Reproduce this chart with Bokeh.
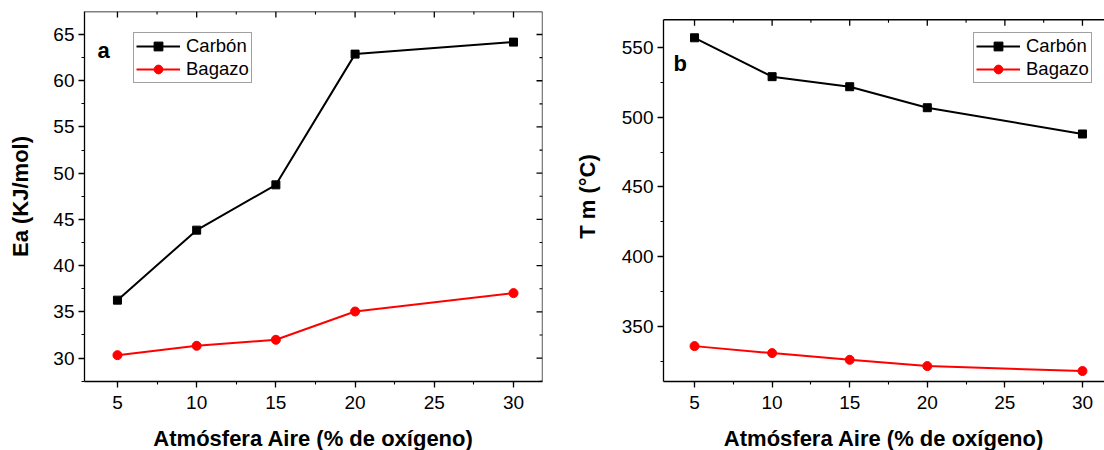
import math
from bokeh.plotting import figure
from bokeh.models import Range1d, Legend, LegendItem, Label, SingleIntervalTicker, Span
from bokeh.layouts import row
from bokeh.embed import file_html
from bokeh.resources import INLINE

# ---- data ----
oxygen = [5, 10, 15, 20, 30]
ea_carbon = [36.27, 43.84, 48.74, 62.88, 64.18]
ea_bagazo = [30.32, 31.33, 31.98, 35.04, 37.03]
tm_carbon = [556.7, 528.9, 521.7, 506.7, 487.9]
tm_bagazo = [336.2, 331.2, 326.4, 321.9, 318.4]
x_title = "Atmósfera Aire (% de oxígeno)"
series_names = ["Carbón", "Bagazo"]

FONT = "Liberation Sans"


def style_axis(ax):
    ax.axis_line_color = "black"
    ax.axis_line_width = 1.3
    ax.major_tick_line_color = "black"
    ax.major_tick_line_width = 1.3
    ax.minor_tick_line_color = "black"
    ax.minor_tick_line_width = 1.1
    ax.major_tick_in, ax.major_tick_out = 0, 6
    ax.minor_tick_in, ax.minor_tick_out = 0, 3
    ax.major_label_text_font = FONT
    ax.major_label_text_font_size = "19px"
    ax.major_label_text_color = "black"
    ax.axis_label_text_font = FONT
    ax.axis_label_text_font_size = "22px"
    ax.axis_label_text_font_style = "bold"
    ax.axis_label_text_color = "black"


def tick_values(lo, hi, step):
    # major and minor tick positions (minor = half step) inside [lo, hi]
    start = math.ceil(lo / (step / 2.0))
    vals = []
    k = start
    while k * step / 2.0 <= hi:
        vals.append((k * step / 2.0, k % 2 == 0))
        k += 1
    return vals


def make_panel(ys_carbon, ys_bagazo, xr, yr, ybox, yint, ytitle, letter,
               frame_w, frame_h, bl, br, bt, bb, leg_loc, letter_pos,
               ylab_standoff, right_side=True):
    # yr: full frame range; ybox: the drawn box (axis bounds / top line)
    p = figure(frame_width=frame_w, frame_height=frame_h,
               min_border_left=bl, min_border_right=br,
               min_border_top=bt, min_border_bottom=bb,
               x_range=Range1d(*xr), y_range=Range1d(*yr),
               toolbar_location=None, output_backend="svg")
    p.xgrid.visible = False
    p.ygrid.visible = False
    p.outline_line_color = None
    p.background_fill_color = "white"
    p.border_fill_color = "white"

    p.xaxis.ticker = SingleIntervalTicker(interval=5, num_minor_ticks=2)
    p.yaxis.ticker = SingleIntervalTicker(interval=yint, num_minor_ticks=2)
    p.xaxis.axis_label = x_title
    p.yaxis.axis_label = ytitle
    for ax in p.xaxis + p.yaxis:
        style_axis(ax)
    p.yaxis.bounds = ybox
    p.xaxis.major_label_standoff = 8
    p.xaxis.axis_label_standoff = 14
    p.yaxis.major_label_standoff = 4
    p.yaxis.axis_label_standoff = ylab_standoff

    # top border line and inward ticks
    p.add_layout(Span(location=ybox[1], dimension="width", line_color="black", line_width=1.3))
    tv = tick_values(xr[0], xr[1], 5)
    maj = [v for v, m in tv if m]
    mnr = [v for v, m in tv if not m]
    p.ray(x=maj, y=[ybox[1]] * len(maj), length=6, length_units="screen",
          angle=-math.pi / 2, line_color="black", line_width=1.3)
    p.ray(x=mnr, y=[ybox[1]] * len(mnr), length=3, length_units="screen",
          angle=-math.pi / 2, line_color="black", line_width=1.1)
    if right_side:
        p.add_layout(Span(location=xr[1], dimension="height", line_color="black", line_width=1.3))
        tv = tick_values(ybox[0], ybox[1], yint)
        maj = [v for v, m in tv if m]
        mnr = [v for v, m in tv if not m]
        p.ray(x=[xr[1]] * len(maj), y=maj, length=6, length_units="screen",
              angle=math.pi, line_color="black", line_width=1.3)
        p.ray(x=[xr[1]] * len(mnr), y=mnr, length=3, length_units="screen",
              angle=math.pi, line_color="black", line_width=1.1)

    l1 = p.line(oxygen, ys_carbon, line_color="black", line_width=2)
    m1 = p.scatter(oxygen, ys_carbon, marker="square", size=8, fill_color="black", line_color="black")
    l2 = p.line(oxygen, ys_bagazo, line_color="red", line_width=2)
    m2 = p.scatter(oxygen, ys_bagazo, marker="circle", size=9, fill_color="red", line_color="red")

    legend = Legend(items=[LegendItem(label=series_names[0], renderers=[l1, m1]),
                           LegendItem(label=series_names[1], renderers=[l2, m2])],
                    location=leg_loc)
    legend.border_line_color = "#444444"
    legend.border_line_width = 1
    legend.background_fill_color = "white"
    legend.background_fill_alpha = 1
    legend.label_text_font = FONT
    legend.label_text_font_size = "18.5px"
    legend.label_text_color = "black"
    legend.glyph_width = 44
    legend.glyph_height = 22
    legend.label_height = 22
    legend.label_standoff = 6
    legend.padding = 2
    legend.spacing = 1
    legend.margin = 0
    p.add_layout(legend)

    p.add_layout(Label(x=letter_pos[0], y=letter_pos[1], x_units="screen", y_units="screen",
                       text=letter, text_font=FONT, text_font_style="bold",
                       text_font_size="22px", text_color="black",
                       text_baseline="alphabetic"))
    return p


p1 = make_panel(ea_carbon, ea_bagazo, (2.92, 31.83), (27.47, 67.49), (27.47, 67.49), 5,
                "Ea (KJ/mol)", "a",
                458, 370, 84, 8, 11, 69, (49, 298), (13, 331), 17, right_side=True)
p2 = make_panel(tm_carbon, tm_bagazo, (3.0, 31.42), (310.9, 575.5), (310.9, 569.6), 50,
                "T m (°C)", "b",
                441, 370, 113, 0, 11, 69, (310, 298), (10, 318), 19, right_side=False)

layout = row(p1, p2)
open("out.html", "w").write(file_html(layout, INLINE))
